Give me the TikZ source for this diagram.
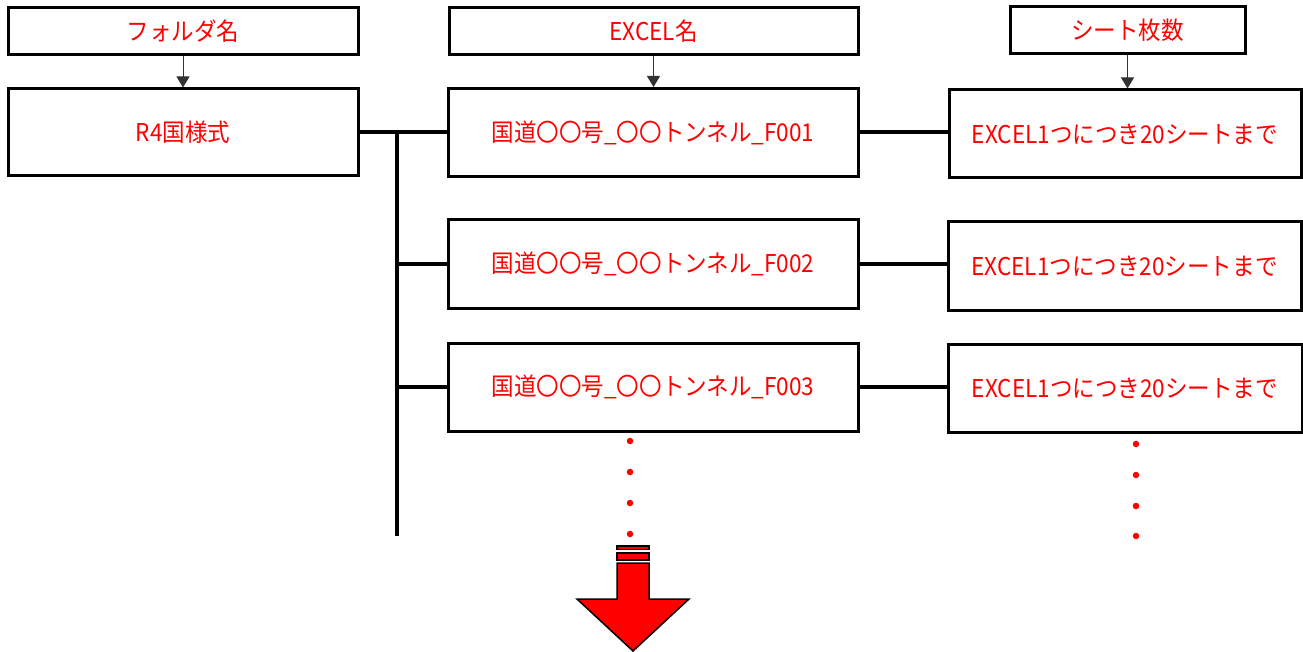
\documentclass[tikz,border=0pt]{standalone}
\usepackage{fontspec}
\setmainfont{Noto Sans CJK JP}[FakeStretch=0.92]
\usetikzlibrary{arrows.meta}
\definecolor{txtred}{RGB}{255,0,0}
\begin{document}
\begin{tikzpicture}[x=1pt,y=-1pt,
  box/.style={draw=black,line width=3pt,fill=white,inner sep=0pt,
    font=\fontsize{24.5}{28}\selectfont,text=txtred},
  trunk/.style={line width=4pt,draw=black},
  link/.style={line width=4pt,draw=black},
  thin/.style={line width=1pt,draw=black!80,-{Triangle[width=13pt,length=11pt]}},
  dot/.style={circle,fill=txtred,inner sep=0pt,minimum size=6.5pt}]
\useasboundingbox (0,0) rectangle (1303,652);
% header boxes
\node[box,minimum width=350,minimum height=47] (fold) at (183,31.5) {フォルダ名};
\node[box,minimum width=409,minimum height=47] (xname) at (653.5,31.5) {EXCEL名};
\node[box,minimum width=235,minimum height=47] (sheet) at (1127.5,30.5) {シート枚数};
% main boxes
\node[box,minimum width=350,minimum height=87] (r4) at (183,132.5) {R4国様式};
\node[box,minimum width=410,minimum height=88] (f1) at (653,132.5) {国道〇〇号\_〇〇トンネル\_F001};
\node[box,minimum width=352,minimum height=88] (s1) at (1125,134) {EXCEL1つにつき20シートまで};
\node[box,minimum width=410,minimum height=88] (f2) at (653,264) {国道〇〇号\_〇〇トンネル\_F002};
\node[box,minimum width=353,minimum height=88] (s2) at (1124.5,266) {EXCEL1つにつき20シートまで};
\node[box,minimum width=410,minimum height=88] (f3) at (653,387) {国道〇〇号\_〇〇トンネル\_F003};
\node[box,minimum width=354,minimum height=88] (s3) at (1125,388) {EXCEL1つにつき20シートまで};
% header arrows
\draw[thin] (fold.south) -- (fold.south |- r4.north);
\draw[thin] (xname.south) -- (xname.south |- f1.north);
\draw[thin] (sheet.south) -- (sheet.south |- s1.north);
% trunk
\coordinate (tb) at (397,536);
\draw[link] (r4.east) -- (f1.west);
\draw[trunk] (r4.east -| tb) -- (tb);
\draw[link] (f2.west -| tb) -- (f2.west);
\draw[link] (f3.west -| tb) -- (f3.west);
% right links
\draw[link] (f1.east) -- (s1.west |- f1.east);
\draw[link] (f2.east) -- (s2.west |- f2.east);
\draw[link] (f3.east) -- (s3.west |- f3.east);
% dots
\foreach \y [count=\i] in {441,472,503,534} {\node[dot] (dm\i) at (630,\y) {};}
\foreach \y [count=\i] in {444,475,506,536} {\node[dot] (dr\i) at (1136,\y) {};}
% big arrow
\begin{scope}[draw=black,fill=txtred,line width=1.5pt]
\filldraw (617,546) rectangle (649,549.5);
\filldraw (617,553) rectangle (649,560);
\filldraw (617,563) -- (649,563) -- (649,599) -- (689,599) -- (633,651) -- (577,599) -- (617,599) -- cycle;
\end{scope}
\end{tikzpicture}
\end{document}
